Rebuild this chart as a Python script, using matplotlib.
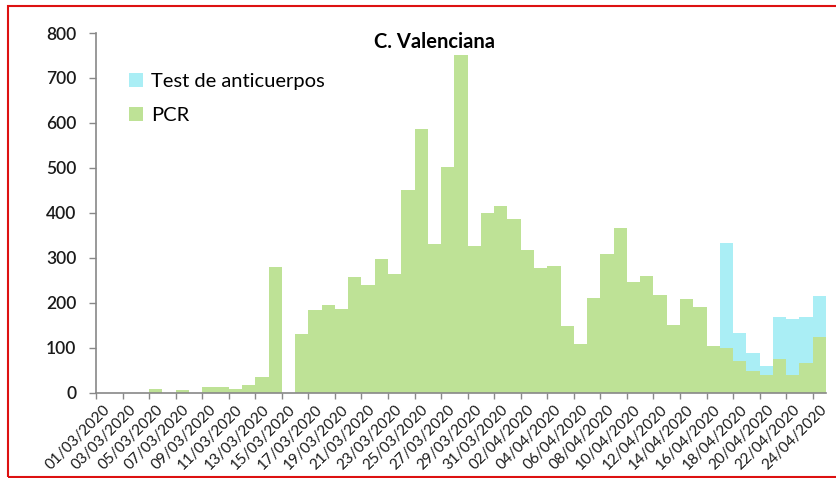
import numpy as np
import pandas as pd
import matplotlib
matplotlib.use("Agg")
import matplotlib.pyplot as plt
from matplotlib.patches import Rectangle

plt.rcParams["font.family"] = ["Lato", "DejaVu Sans"]

## DATA ##
dates = pd.date_range("2020-03-01", "2020-04-24", freq="D").strftime("%d/%m/%Y").tolist()

pcr = [0, 0, 0, 0, 8, 0, 5, 0, 12, 12,
       8, 16, 34, 280, 0, 130, 184, 195, 185, 256,
       239, 297, 264, 450, 586, 330, 502, 750, 327, 400,
       414, 385, 316, 276, 282, 148, 108, 210, 308, 365,
       247, 260, 217, 150, 209, 191, 103, 98, 71, 48,
       40, 74, 40, 66, 124]

anticuerpos = [0] * 47 + [235, 61, 41, 20, 95, 123, 103, 91]

y_ticks = [0, 100, 200, 300, 400, 500, 600, 700, 800]

green = "#bee296"
cyan = "#aaeef5"

## FIGURE ##
fig = plt.figure(figsize=(8.36, 4.78), dpi=100)
W, H = 836, 478
ax = fig.add_axes([96 / W, (H - 392.5) / H, (826 - 96) / W, (392.5 - 33) / H])

x = np.arange(len(dates))
ax.bar(x, pcr, width=1.0, color=green, linewidth=0, label="PCR")
ax.bar(x, anticuerpos, width=1.0, bottom=pcr, color=cyan, linewidth=0,
       label="Test de anticuerpos")

ax.set_xlim(-0.5, len(dates) - 0.5)
ax.set_ylim(0, 800)
ax.set_yticks(y_ticks)
ax.set_yticklabels([str(v) for v in y_ticks], fontsize=12.5, color="#1a1a1a",
                   fontweight="semibold")

ax.set_xticks(x[::2])
ax.set_xticklabels(dates[::2], rotation=45, ha="right", rotation_mode="anchor",
                   fontsize=11, color="#1a1a1a")
ax.set_xticks(np.arange(-0.5, len(dates) - 1, 2), minor=True)
ax.tick_params(axis="x", which="major", length=0, pad=7)
ax.tick_params(axis="x", which="minor", length=4, color="#888888", width=1)
ax.tick_params(axis="y", length=5, color="#888888", width=1, pad=9)

for side in ["top", "right"]:
    ax.spines[side].set_visible(False)
for side in ["left", "bottom"]:
    ax.spines[side].set_color("#888888")
    ax.spines[side].set_linewidth(1.2)

handles, labels = ax.get_legend_handles_labels()
ax.legend(handles[::-1], labels[::-1], loc="upper left",
          bbox_to_anchor=(129 / W, 1 - 73 / H), bbox_transform=fig.transFigure,
          frameon=False, fontsize=14.5, handlelength=0.7, handleheight=0.7,
          handletextpad=0.4, labelspacing=0.85, borderaxespad=0, borderpad=0)

fig.text(435 / W, 1 - 42 / H, "C. Valenciana", ha="center", va="center",
         fontsize=14.5, fontweight="bold")

# red frame around the picture
fig.patches.append(Rectangle((8 / W, 1 - 476.5 / H), 1.0, (476.5 - 6) / H,
                             transform=fig.transFigure, fill=False,
                             edgecolor="#dd1111", linewidth=1.5))

fig.savefig("out.png", dpi=100)
